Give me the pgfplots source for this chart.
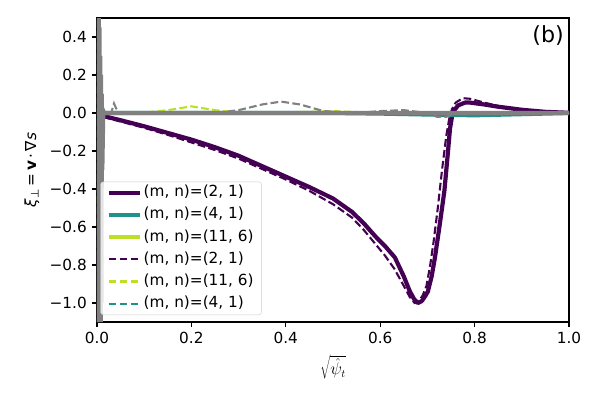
\documentclass[border=0pt]{standalone}
\usepackage{pgfplots}
\pgfplotsset{compat=1.18}
\usepackage{fontspec}
\setmainfont{DejaVu Sans}
\definecolor{vpurple}{HTML}{440154}
\definecolor{vteal}{HTML}{21918C}
\definecolor{vyellow}{HTML}{BDDF26}
\definecolor{mgray}{HTML}{808080}
\begin{document}
\fontsize{15.3pt}{18pt}\selectfont
\begin{tikzpicture}
\begin{axis}[
  at={(0pt,0pt)}, anchor=south west,
  width=472pt, height=304pt, scale only axis,
  xmin=0, xmax=1, ymin=-1.1, ymax=0.5,
  xtick={0,0.2,0.4,0.6,0.8,1.0},
  xticklabels={0.0,0.2,0.4,0.6,0.8,1.0},
  ytick={-1.0,-0.8,-0.6,-0.4,-0.2,0.0,0.2,0.4},
  yticklabels={−1.0,−0.8,−0.6,−0.4,−0.2,0.0,0.2,0.4},
  xtick pos=left, ytick pos=left,
  tick align=outside,
  major tick length=4.9pt,
  every tick/.style={black, line width=1.1pt},
  axis line style={line width=1.1pt},
  ticklabel style={font=\fontsize{15.3pt}{18pt}\selectfont},
  xlabel={$\sqrt{\rule{0pt}{1.05em}\hat{\psi}_t}$},
  xlabel style={font=\fontsize{16pt}{19pt}\selectfont, yshift=-1pt},
  ylabel={{\itshape ξ}\textsubscript{⊥}\,=\,\textbf{v}\,·\,∇{\itshape s}},
  ylabel style={font=\fontsize{15.3pt}{18pt}\selectfont},
  legend cell align=left,
  legend style={
    at={(0.007,0.023)}, anchor=south west,
    draw=black!20, rounded corners=3pt, fill=white, fill opacity=0.8, text opacity=1,
    font=\fontsize{15.3pt}{18pt}\selectfont,
    inner xsep=6pt, inner ysep=4pt,
    row sep=7.6pt,
    nodes={inner ysep=0pt, text height=11pt, text depth=3.5pt},
  },
  legend image code/.code={\draw[#1] (0pt,0pt) -- (31pt,0pt);},
  clip=true,
]
% solid (2,1)
\addplot[vpurple, line width=4.2pt, line join=round] coordinates {
(0.012,-0.015)(0.05,-0.038)(0.1,-0.07)(0.15,-0.105)(0.2,-0.14)(0.25,-0.18)
(0.3,-0.225)(0.35,-0.28)(0.4,-0.335)(0.45,-0.39)(0.5,-0.45)(0.54,-0.52)
(0.565,-0.58)(0.59,-0.65)(0.61,-0.70)(0.631,-0.76)(0.65,-0.86)(0.663,-0.94)
(0.672,-0.98)(0.68,-1.0)(0.688,-0.99)(0.695,-0.965)(0.701,-0.94)(0.709,-0.86)
(0.716,-0.76)(0.726,-0.59)(0.736,-0.41)(0.743,-0.22)(0.748,-0.08)(0.752,-0.02)
(0.757,0.015)(0.765,0.04)(0.78,0.055)(0.79,0.055)(0.82,0.045)(0.85,0.033)
(0.9,0.017)(0.95,0.006)(1.0,0.001)};
\addlegendentry{(m, n)=(2, 1)}
% solid (4,1)
\addplot[vteal, line width=4.2pt] coordinates {
(0.012,0)(0.3,0)(0.5,0)(0.6,-0.003)(0.7,-0.008)(0.8,-0.012)(0.9,-0.006)(1.0,0)};
\addlegendentry{(m, n)=(4, 1)}
% solid (11,6)
\addplot[vyellow, line width=4.2pt] coordinates {
(0.012,0)(0.2,0)(0.5,0)(0.8,0)(1.0,0)};
\addlegendentry{(m, n)=(11, 6)}
% dashed (2,1)
\addplot[vpurple, line width=2.1pt, dash pattern=on 7.7pt off 3.3pt] coordinates {
(0.012,-0.02)(0.05,-0.045)(0.1,-0.078)(0.15,-0.115)(0.2,-0.155)(0.25,-0.195)
(0.3,-0.24)(0.35,-0.295)(0.4,-0.35)(0.45,-0.41)(0.5,-0.48)(0.54,-0.55)
(0.565,-0.615)(0.59,-0.69)(0.61,-0.75)(0.63,-0.82)(0.65,-0.91)(0.663,-0.97)
(0.673,-1.0)(0.682,-0.99)(0.69,-0.96)(0.698,-0.91)(0.706,-0.8)(0.713,-0.68)
(0.722,-0.5)(0.731,-0.3)(0.74,-0.12)(0.747,-0.02)(0.752,0.02)(0.76,0.055)
(0.775,0.078)(0.79,0.075)(0.82,0.055)(0.85,0.037)(0.9,0.018)(0.95,0.007)(1.0,0.002)};
\addlegendentry{(m, n)=(2, 1)}
% dashed (11,6)
\addplot[vyellow, line width=2.1pt, dash pattern=on 7.7pt off 3.3pt] coordinates {
(0.012,0)(0.1,0.002)(0.15,0.015)(0.2,0.035)(0.25,0.015)(0.3,0.002)(0.4,0.003)
(0.5,0.01)(0.55,0.005)(0.6,0)(0.7,0.003)(1.0,0)};
\addlegendentry{(m, n)=(11, 6)}
% dashed (4,1)
\addplot[vteal, line width=2.1pt, dash pattern=on 7.7pt off 3.3pt] coordinates {
(0.012,0)(0.5,0)(0.65,-0.003)(0.75,-0.01)(0.85,-0.008)(1.0,0)};
\addlegendentry{(m, n)=(4, 1)}
% gray dashed (no legend)
\addplot[mgray, line width=2.1pt, dash pattern=on 7.7pt off 3.3pt, forget plot] coordinates {
(0.001,0.49)(0.002,-1.1)(0.003,0.45)(0.004,-1.05)(0.005,0.3)(0.006,-0.8)(0.007,0.2)
(0.008,-0.5)(0.009,0.1)(0.011,-0.2)(0.014,0.02)(0.02,-0.01)(0.03,0.0)(0.036,0.05)(0.045,0.0)
(0.1,0.0)(0.25,0.0)(0.3,0.015)(0.35,0.045)(0.39,0.06)(0.43,0.045)(0.48,0.01)(0.55,0.0)
(0.6,0.01)(0.65,0.015)(0.7,0.0)(0.72,-0.02)(0.74,-0.02)(0.76,0.0)(1.0,0.0)};
% gray solid (no legend)
\addplot[mgray, line width=4.4pt, forget plot] coordinates {
(0.0005,0.5)(0.0012,-1.1)(0.002,0.5)(0.0028,-1.1)(0.0036,0.5)(0.0044,-1.1)
(0.0052,0.45)(0.006,-1.1)(0.0068,0.3)(0.0076,-1.1)(0.0084,0.2)(0.0092,-1.0)
(0.01,0.1)(0.011,-0.3)(0.013,0.0)(0.3,0.0)(0.6,0.0)(1.0,0.0)};
\node[anchor=north east, font=\fontsize{22.2pt}{26pt}\selectfont, inner sep=0pt] at (rel axis cs:1,1) [xshift=-5pt, yshift=-7pt] {(b)};
\end{axis}
\path[use as bounding box] (-97pt,-78pt) rectangle (503pt,322pt);
\end{tikzpicture}
\end{document}
